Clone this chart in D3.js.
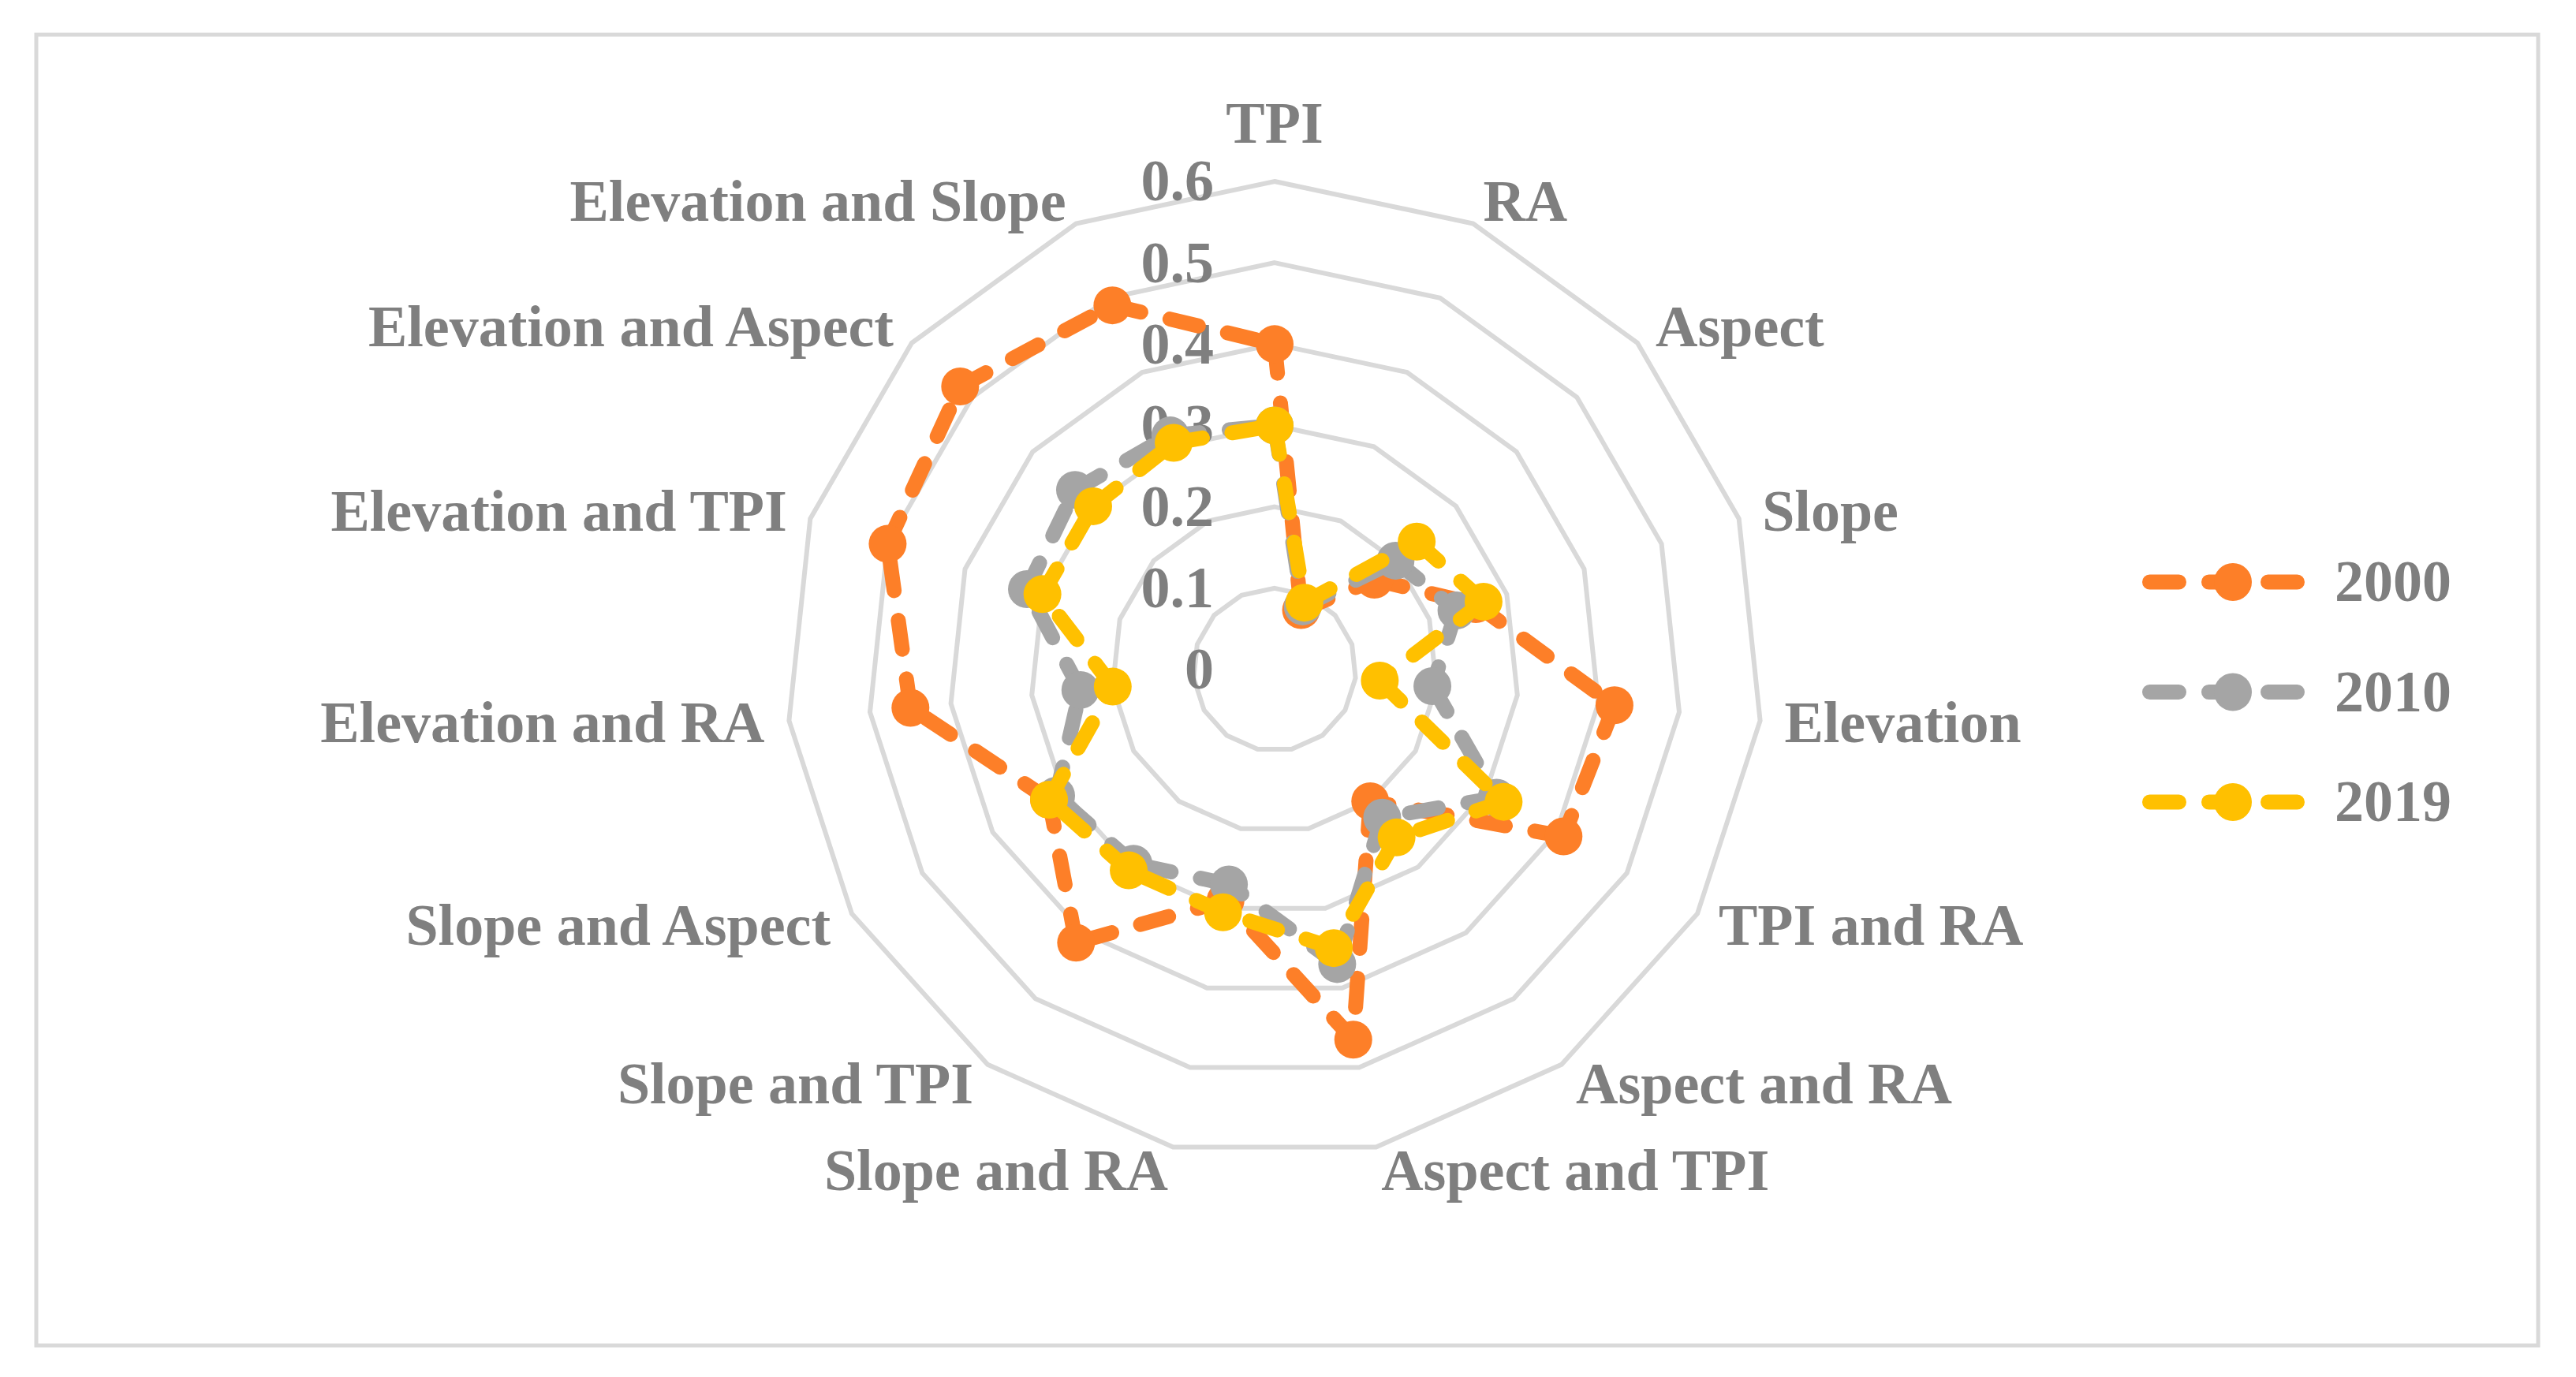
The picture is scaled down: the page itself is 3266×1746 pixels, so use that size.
<!DOCTYPE html>
<html lang="en">
<head>
<meta charset="utf-8">
<title>Radar chart</title>
<script src="https://d3js.org/d3.v7.min.js"></script>
<style>
  body { margin: 0; background: #ffffff; }
  svg text {
    font-family: "Liberation Serif", "Times New Roman", serif;
    font-weight: bold;
    fill: #7f7f7f;
  }
</style>
</head>
<body>
<svg id="chart" width="3266" height="1746"></svg>
<script>
// data
const categories = [
  "TPI", "RA", "Aspect", "Slope", "Elevation",
  "TPI and RA", "Aspect and RA", "Aspect and TPI", "Slope and RA", "Slope and TPI",
  "Slope and Aspect", "Elevation and RA", "Elevation and TPI", "Elevation and Aspect", "Elevation and Slope"
];
const years = ["2000", "2010", "2019"];
const values2000 = [0.40, 0.08, 0.165, 0.26, 0.42, 0.41, 0.20, 0.465, 0.29, 0.415, 0.32, 0.45, 0.50, 0.52, 0.49];
const values2010 = [0.30, 0.085, 0.20, 0.235, 0.195, 0.315, 0.225, 0.37, 0.27, 0.295, 0.31, 0.24, 0.32, 0.33, 0.315];
const values2019 = [0.30, 0.09, 0.235, 0.27, 0.13, 0.325, 0.255, 0.35, 0.305, 0.305, 0.32, 0.20, 0.30, 0.30, 0.305];
const tickValues = [0, 0.1, 0.2, 0.3, 0.4, 0.5, 0.6];
const tickLabels = ["0", "0.1", "0.2", "0.3", "0.4", "0.5", "0.6"];

const series = [
  { name: years[0], values: values2000, color: "#fd7f28" },
  { name: years[1], values: values2010, color: "#a5a5a5" },
  { name: years[2], values: values2019, color: "#ffc000" }
];

const svg = d3.select("#chart");
const cx = 1616, cy = 849;
const fontSize = 74;
const gridColor = "#d9d9d9";

// chart border
svg.append("rect")
  .attr("x", 46).attr("y", 44)
  .attr("width", 3172).attr("height", 1662)
  .attr("fill", "none")
  .attr("stroke", gridColor)
  .attr("stroke-width", 5);

const r = d3.scaleLinear().domain([0, 0.6]).range([0, 619]);
const angle = d3.scalePoint().domain(d3.range(categories.length))
  .range([0, 2 * Math.PI - 2 * Math.PI / categories.length]);

const g = svg.append("g").attr("transform", `translate(${cx},${cy})`);

// rings
const ring = d3.lineRadial()
  .angle((d, i) => angle(i))
  .radius(d => r(d))
  .curve(d3.curveLinearClosed);

g.selectAll("path.ring")
  .data(tickValues.filter(v => v > 0))
  .join("path")
  .attr("class", "ring")
  .attr("d", v => ring(categories.map(() => v)))
  .attr("fill", "none")
  .attr("stroke", gridColor)
  .attr("stroke-width", 6)
  .attr("stroke-linejoin", "miter");

// tick labels, left of the vertical axis
g.selectAll("text.tick")
  .data(tickValues)
  .join("text")
  .attr("class", "tick")
  .attr("x", -77)
  .attr("y", v => -r(v) + fontSize * 0.33)
  .attr("text-anchor", "end")
  .style("font-size", fontSize + "px")
  .text((v, i) => tickLabels[i]);

// category labels
const labelR = 650;
g.selectAll("text.cat")
  .data(categories)
  .join("text")
  .attr("class", "cat")
  .each(function(d, i) {
    const a = angle(i);
    const s = Math.sin(a), c = Math.cos(a);
    let x = labelR * s, y = -labelR * c;
    let anchor = "middle";
    if (s > 0.1) anchor = "start";
    else if (s < -0.1) anchor = "end";
    else y -= 42 * c;
    d3.select(this)
      .attr("x", x)
      .attr("y", y + fontSize * 0.33)
      .attr("text-anchor", anchor);
  })
  .style("font-size", fontSize + "px")
  .text(d => d);

// series: dashed segments restart at every vertex, then markers
const seg = d3.lineRadial()
  .angle(d => angle(d.i))
  .radius(d => r(d.v));

series.forEach(s => {
  const pts = s.values.map((v, i) => ({ i: i, v: v }));
  const pairs = pts.map((p, i) => [p, pts[(i + 1) % pts.length]]);
  const sg = g.append("g");
  sg.selectAll("path")
    .data(pairs)
    .join("path")
    .attr("d", seg)
    .attr("fill", "none")
    .attr("stroke", s.color)
    .attr("stroke-width", 19)
    .attr("stroke-linecap", "round")
    .attr("stroke-dasharray", "37,38");
  sg.selectAll("circle")
    .data(pts)
    .join("circle")
    .attr("cx", d => r(d.v) * Math.sin(angle(d.i)))
    .attr("cy", d => -r(d.v) * Math.cos(angle(d.i)))
    .attr("r", 24)
    .attr("fill", s.color);
});

// legend
const legend = svg.append("g");
const legendY = d3.scalePoint().domain(years).range([738, 1017]);
series.forEach(s => {
  const y = legendY(s.name);
  legend.append("path")
    .attr("d", d3.line()([[2725.5, y], [2913.5, y]]))
    .attr("stroke", s.color)
    .attr("stroke-width", 19)
    .attr("stroke-linecap", "round")
    .attr("stroke-dasharray", "37,38");
  legend.append("circle")
    .attr("cx", 2831).attr("cy", y).attr("r", 24)
    .attr("fill", s.color);
  legend.append("text")
    .attr("x", 2960)
    .attr("y", y + fontSize * 0.33)
    .style("font-size", fontSize + "px")
    .text(s.name);
});
</script>
</body>
</html>
